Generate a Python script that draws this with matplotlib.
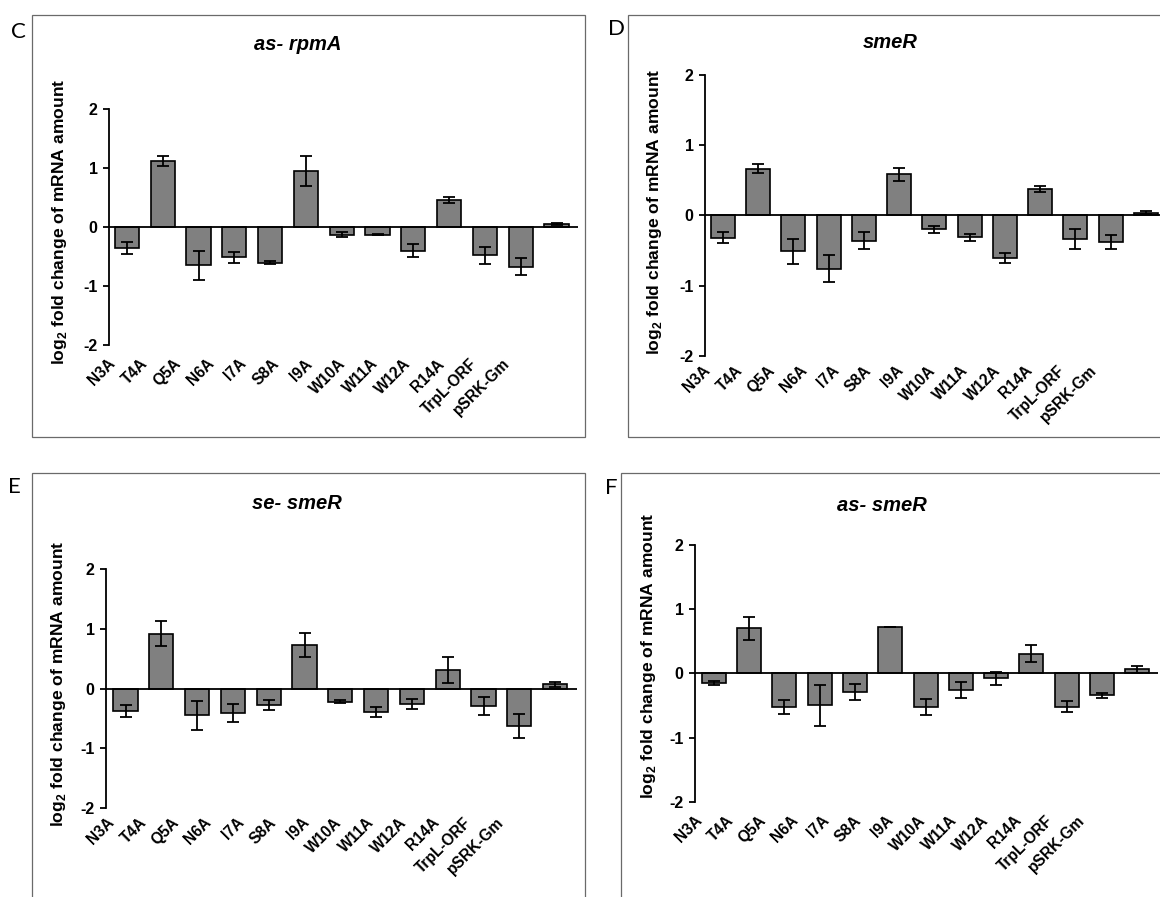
import matplotlib
matplotlib.use('Agg')
import matplotlib.pyplot as plt
from matplotlib.patches import Rectangle
import numpy as np

# ---------------- data ----------------
categories = ['N3A', 'T4A', 'Q5A', 'N6A', 'I7A', 'S8A', 'I9A', 'W10A', 'W11A',
              'W12A', 'R14A', 'TrpL-ORF', 'pSRK-Gm']

as_rpmA_mean = [-0.35, 1.12, -0.65, -0.51, -0.60, 0.945, -0.13, -0.13, -0.40, 0.46, -0.48, -0.67, 0.057]
as_rpmA_err = [0.10, 0.085, 0.24, 0.09, 0.03, 0.255, 0.04, 0.01, 0.11, 0.05, 0.15, 0.14, 0.02]

smeR_mean = [-0.32, 0.665, -0.51, -0.76, -0.36, 0.585, -0.20, -0.31, -0.61, 0.375, -0.34, -0.38, 0.04]
smeR_err = [0.08, 0.065, 0.18, 0.19, 0.12, 0.09, 0.05, 0.05, 0.07, 0.04, 0.145, 0.095, 0.015]

se_smeR_mean = [-0.375, 0.92, -0.45, -0.41, -0.27, 0.73, -0.22, -0.39, -0.26, 0.31, -0.29, -0.63, 0.073]
se_smeR_err = [0.10, 0.215, 0.24, 0.15, 0.085, 0.205, 0.02, 0.08, 0.09, 0.22, 0.155, 0.20, 0.04]

as_smeR_mean = [-0.145, 0.70, -0.525, -0.50, -0.285, 0.72, -0.525, -0.26, -0.08, 0.306, -0.52, -0.34, 0.062]
as_smeR_err = [0.03, 0.175, 0.105, 0.32, 0.125, 0.005, 0.13, 0.12, 0.10, 0.13, 0.09, 0.04, 0.06]

titles = ['as- rpmA', 'smeR', 'se- smeR', 'as- smeR']
panel_letters = ['C', 'D', 'E', 'F']
yticks = [-2, -1, 0, 1, 2]
ylabel = 'log$_\\mathbf{2}$ fold change of mRNA amount'

# ---------------- layout (pixels) ----------------
W, H = 1160, 897
layout = [
    dict(ax=(109, 578, 109.3, 345.0), xlim=(-0.5, 12.6), lab=(-0.25, 0.919, 11),
         frame=(32, 14.7, 585, 437), letter=(18.5, 32.5), title=(298, 45), ylab=(60, 222)),
    dict(ax=(705, 1167, 75.0, 355.7), xlim=(-0.51, 12.6), lab=(-0.28, 0.915, 7),
         frame=(628, 14.7, 1166, 437), letter=(617, 29), title=(890, 43), ylab=(655, 212)),
    dict(ax=(106, 576.6, 569.3, 807.7), xlim=(-0.545, 12.6), lab=(-0.24, 0.908, 7),
         frame=(32, 472.7, 585, 905), letter=(14, 487), title=(297, 503), ylab=(59, 684)),
    dict(ax=(695, 1157.8, 545.0, 801.7), xlim=(-0.53, 12.58), lab=(-0.25, 0.904, 11),
         frame=(621, 472.7, 1166, 905), letter=(611, 488), title=(882, 505), ylab=(649, 656)),
]
series = [(as_rpmA_mean, as_rpmA_err), (smeR_mean, smeR_err),
          (se_smeR_mean, se_smeR_err), (as_smeR_mean, as_smeR_err)]

FONT = 'Liberation Sans'
plt.rcParams['font.family'] = [FONT, 'DejaVu Sans']
plt.rcParams['mathtext.fontset'] = 'custom'
plt.rcParams['mathtext.rm'] = FONT
plt.rcParams['mathtext.bf'] = FONT + ':bold'

fig = plt.figure(figsize=(W / 100, H / 100), dpi=100)

def fx(px):
    return px / W

def fy(py):
    return 1 - py / H

for lay, (mean, err), title, letter in zip(layout, series, titles, panel_letters):
    # frame around panel
    x0, y0, x1, y1 = lay['frame']
    fig.patches.append(Rectangle((fx(x0), fy(y1)), fx(x1) - fx(x0), fy(y0) - fy(y1),
                                 transform=fig.transFigure, fill=False,
                                 edgecolor='#6a6a6a', linewidth=0.9, zorder=0))
    fig.text(fx(lay['letter'][0]), fy(lay['letter'][1]), letter, family='Lato',
             fontsize=16, ha='center', va='center')
    fig.text(fx(lay['title'][0]), fy(lay['title'][1]), title, fontsize=14.5,
             fontweight='bold', fontstyle='italic', ha='center', va='center')
    fig.text(fx(lay['ylab'][0]), fy(lay['ylab'][1]), ylabel, fontsize=12.6,
             fontweight='bold', rotation=90, ha='center', va='center')

    l, r, t, b = lay['ax']
    ax = fig.add_axes([fx(l), fy(b), fx(r) - fx(l), fy(t) - fy(b)])
    ax.set_facecolor('none')
    x = np.arange(len(categories))
    ax.bar(x, mean, width=0.68, color='#808080', edgecolor='black', linewidth=1.2, zorder=2)
    ax.errorbar(x, mean, yerr=err, fmt='none', ecolor='black', elinewidth=1.3,
                capsize=4.3, capthick=1.3, zorder=3)
    ax.axhline(0, color='black', linewidth=1.3, zorder=4)
    ax.set_xlim(*lay['xlim'])
    ax.set_ylim(-2, 2)
    for s in ['top', 'right', 'bottom']:
        ax.spines[s].set_visible(False)
    ax.spines['left'].set_linewidth(1.3)
    ax.set_yticks(yticks)
    ax.set_yticklabels([str(v) for v in yticks], fontsize=11.5, fontweight='bold')
    ax.tick_params(axis='y', length=4, width=1.3, pad=4.2)
    off, ratio, pad = lay['lab']
    ax.set_xticks(off + ratio * x)
    ax.set_xticklabels(categories, rotation=45, ha='right', va='top',
                       fontsize=11.2, fontweight='bold')
    ax.tick_params(axis='x', length=0, pad=pad * 0.72)

fig.savefig('out.png', dpi=100)
